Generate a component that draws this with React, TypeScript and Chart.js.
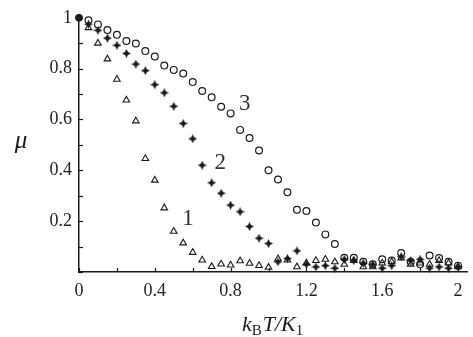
import { useEffect, useRef } from 'react';
import { Chart, registerables } from 'chart.js';

Chart.register(...registerables);

// ---- data ----
const origin = [{ x: 0, y: 1 }];

const xs1 = [0.05, 0.1, 0.15, 0.2, 0.25, 0.3, 0.35, 0.4, 0.45, 0.5, 0.55, 0.6, 0.65, 0.7, 0.75, 0.8, 0.85, 0.9, 0.95, 1.0,
  1.05, 1.1, 1.15, 1.2, 1.25, 1.3, 1.35, 1.4, 1.45, 1.5, 1.55, 1.6, 1.65, 1.7, 1.75, 1.8, 1.85, 1.9, 1.95, 2.0];
const ys1 = [0.961, 0.9, 0.838, 0.758, 0.676, 0.594, 0.446, 0.361, 0.252, 0.16, 0.114, 0.077, 0.047, 0.021, 0.031, 0.027, 0.044, 0.034, 0.025, 0.018,
  0.052, 0.047, 0.02, 0.035, 0.045, 0.05, 0.04, 0.03, 0.045, 0.02, 0.02, 0.035, 0.04, 0.055, 0.03, 0.035, 0.03, 0.045, 0.035, 0.02];

const xs2 = xs1;
const ys2 = [0.975, 0.951, 0.92, 0.892, 0.86, 0.818, 0.792, 0.737, 0.705, 0.652, 0.584, 0.524, 0.42, 0.351, 0.31, 0.263, 0.237, 0.179, 0.133, 0.112,
  0.04, 0.053, 0.083, 0.03, 0.02, 0.025, 0.015, 0.05, 0.045, 0.035, 0.03, 0.015, 0.025, 0.06, 0.045, 0.05, 0.015, 0.02, 0.015, 0.02];

const xs3 = xs1;
const ys3 = [0.99, 0.974, 0.952, 0.933, 0.909, 0.899, 0.869, 0.848, 0.812, 0.795, 0.781, 0.747, 0.712, 0.687, 0.65, 0.624, 0.559, 0.527, 0.478, 0.4,
  0.364, 0.314, 0.245, 0.24, 0.195, 0.148, 0.11, 0.056, 0.056, 0.04, 0.03, 0.05, 0.045, 0.075, 0.04, 0.03, 0.065, 0.055, 0.04, 0.025];

const xTickValues = [0, 0.2, 0.4, 0.6, 0.8, 1.0, 1.2, 1.4, 1.6, 1.8, 2.0];
const xTickLabels = ['0', '', '0.4', '', '0.8', '', '1.2', '', '1.6', '', '2'];
const yTickValues = [0, 0.1, 0.2, 0.3, 0.4, 0.5, 0.6, 0.7, 0.8, 0.9, 1.0];
const yTickLabels = ['', '', '0.2', '', '0.4', '', '0.6', '', '0.8', '', '1'];

const seriesLabels = ['1', '2', '3'];
const seriesLabelPos = [{ x: 0.575, y: 0.21 }, { x: 0.745, y: 0.43 }, { x: 0.875, y: 0.66 }];

const toPts = (xs: number[], ys: number[]) => xs.map((x, i) => ({ x, y: ys[i] }));

const INK = '#1a1a1a';
const SERIF = '"Liberation Serif", "DejaVu Serif", serif';

function makeStar(): HTMLCanvasElement {
  const c = document.createElement('canvas');
  c.width = 9;
  c.height = 9;
  const g = c.getContext('2d')!;
  g.fillStyle = INK;
  g.beginPath();
  g.moveTo(4.5, 0);
  g.lineTo(6, 3);
  g.lineTo(9, 4.5);
  g.lineTo(6, 6);
  g.lineTo(4.5, 9);
  g.lineTo(3, 6);
  g.lineTo(0, 4.5);
  g.lineTo(3, 3);
  g.closePath();
  g.fill();
  return c;
}

const decorPlugin = {
  id: 'decor',
  afterDraw(chart: any) {
    const ctx = chart.ctx as CanvasRenderingContext2D;
    const xs = chart.scales.x;
    const ys = chart.scales.y;
    const { left, bottom } = chart.chartArea;
    ctx.save();
    ctx.strokeStyle = INK;
    ctx.lineWidth = 1.2;
    // inward tick marks
    xTickValues.forEach((v) => {
      const px = Math.round(xs.getPixelForValue(v)) + 0.5;
      ctx.beginPath();
      ctx.moveTo(px, bottom);
      ctx.lineTo(px, bottom - 4);
      ctx.stroke();
    });
    yTickValues.forEach((v) => {
      const py = Math.round(ys.getPixelForValue(v)) + 0.5;
      ctx.beginPath();
      ctx.moveTo(left, py);
      ctx.lineTo(left + 4, py);
      ctx.stroke();
    });
    // series labels
    ctx.fillStyle = '#333';
    ctx.font = `23px ${SERIF}`;
    ctx.textAlign = 'center';
    ctx.textBaseline = 'middle';
    seriesLabels.forEach((t, i) => {
      ctx.fillText(t, xs.getPixelForValue(seriesLabelPos[i].x), ys.getPixelForValue(seriesLabelPos[i].y));
    });
    // y title
    ctx.fillStyle = INK;
    ctx.font = `italic 25px ${SERIF}`;
    ctx.fillText('μ', 21, 141);
    // x title: k_B T / K_1
    ctx.textAlign = 'left';
    ctx.textBaseline = 'alphabetic';
    const base = 331;
    let x = 242;
    const parts: { t: string; italic: boolean; sub: boolean }[] = [
      { t: 'k', italic: true, sub: false },
      { t: 'B', italic: false, sub: true },
      { t: 'T/K', italic: true, sub: false },
      { t: '1', italic: false, sub: true },
    ];
    parts.forEach((p) => {
      ctx.font = `${p.italic ? 'italic ' : ''}${p.sub ? 15 : 22}px ${SERIF}`;
      ctx.fillText(p.t, x, p.sub ? base + 4 : base);
      x += ctx.measureText(p.t).width + (p.sub ? 1 : 0);
    });
    ctx.restore();
  },
};

export default function App() {
  const ref = useRef<HTMLCanvasElement>(null);
  useEffect(() => {
    document.body.style.margin = '0';
    const star = makeStar();
    const chart = new Chart(ref.current!, {
      type: 'scatter',
      data: {
        datasets: [
          {
            label: '3',
            data: toPts(xs3, ys3),
            pointStyle: 'circle',
            pointRadius: 3.4,
            borderWidth: 1.2,
            borderColor: INK,
            backgroundColor: 'rgba(255,255,255,0)',
            clip: false,
          },
          {
            label: '1',
            data: toPts(xs1, ys1),
            pointStyle: 'triangle',
            pointRadius: 3.8,
            borderWidth: 1.1,
            borderColor: INK,
            backgroundColor: 'rgba(255,255,255,0)',
            clip: false,
          },
          {
            label: '2',
            data: toPts(xs2, ys2),
            pointStyle: star as any,
            pointRadius: 4.5,
            borderColor: INK,
            backgroundColor: INK,
            clip: false,
          },
          {
            label: 'origin',
            data: origin,
            pointStyle: 'circle',
            pointRadius: 3.5,
            borderColor: INK,
            backgroundColor: INK,
            clip: false,
          },
        ],
      },
      options: {
        animation: false,
        responsive: false,
        layout: { padding: { left: 0, top: 14, right: 3, bottom: 0 } },
        plugins: { legend: { display: false }, tooltip: { enabled: false } },
        scales: {
          x: {
            type: 'linear',
            min: 0,
            max: 2.05,
            afterBuildTicks: (s: any) => {
              s.ticks = xTickValues.map((v) => ({ value: v }));
            },
            afterFit: (s: any) => {
              s.height = 65;
            },
            ticks: {
              autoSkip: false,
              maxRotation: 0,
              padding: 8,
              color: '#222',
              font: { family: SERIF, size: 18 },
              callback: (_v: any, i: number) => xTickLabels[i],
            },
            grid: { display: false, drawTicks: false },
            border: { display: true, color: INK, width: 1.5 },
          },
          y: {
            type: 'linear',
            min: 0,
            max: 1,
            afterBuildTicks: (s: any) => {
              s.ticks = yTickValues.map((v) => ({ value: v }));
            },
            afterFit: (s: any) => {
              s.width = 79;
            },
            ticks: {
              autoSkip: false,
              padding: 7,
              color: '#222',
              font: { family: SERIF, size: 18 },
              callback: (_v: any, i: number) => yTickLabels[i],
            },
            grid: { display: false, drawTicks: false },
            border: { display: true, color: INK, width: 1.5 },
          },
        },
      },
      plugins: [decorPlugin],
    });
    return () => chart.destroy();
  }, []);
  return <canvas ref={ref} width={473} height={337} style={{ display: 'block' }} />;
}
